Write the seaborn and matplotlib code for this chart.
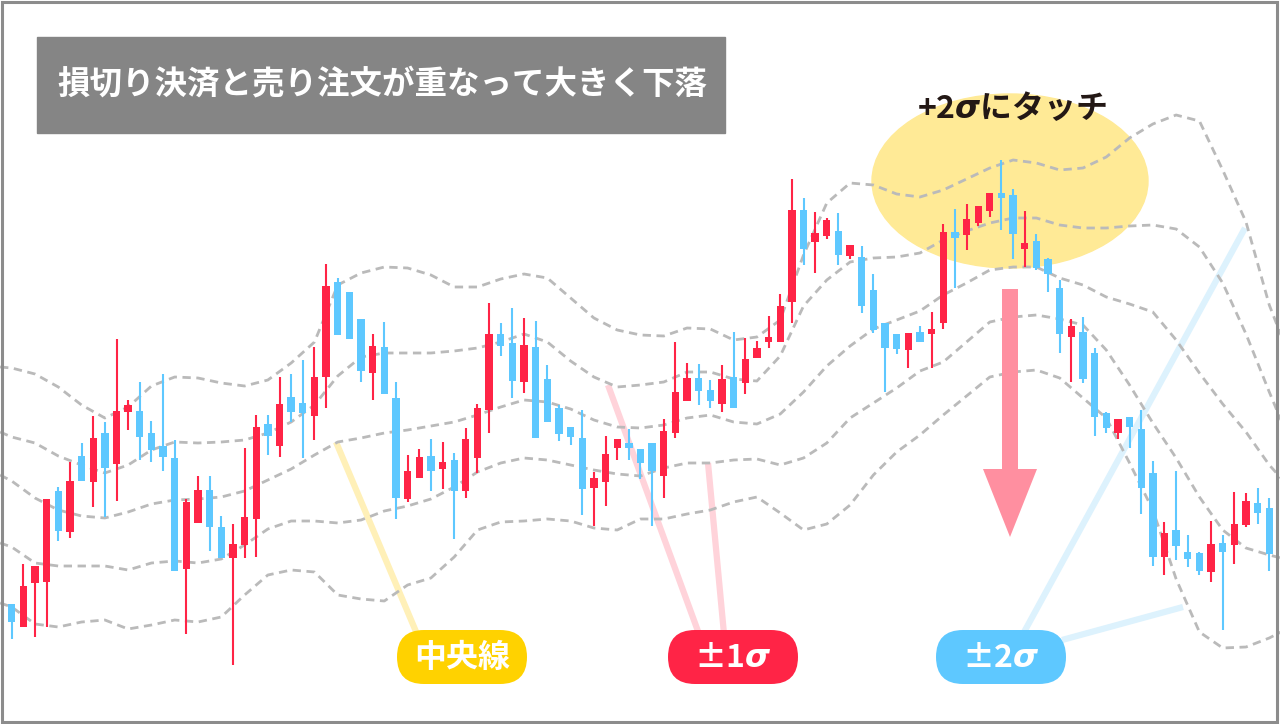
import matplotlib
matplotlib.use("Agg")
import numpy as np
import pandas as pd
import seaborn as sns
import matplotlib.pyplot as plt
import matplotlib.patches as mpatches
import matplotlib.transforms as mtransforms

# candle data (price units, one row per bar)
opens = [96, 73, 117, 118, 209, 168, 244, 218, 267, 236, 288, 289, 267, 254, 242, 131, 177, 210, 173, 142,
         155, 181, 276, 254, 303, 297, 284, 323, 418, 408, 381, 327, 353, 302, 201, 222, 244, 231, 240, 209,
         242, 290, 366, 357, 318, 353, 321, 292, 273, 262, 212, 218, 252, 257, 251, 257, 224, 267, 299, 322,
         310, 296, 323, 317, 342, 358, 358, 398, 490, 458, 464, 469, 444, 443, 410, 377, 366, 350, 368, 366,
         377, 468, 465, 477, 489, 507, 505, 451, 459, 441, 412, 363, 368, 347, 287, 267, 283, 271, 227, 143,
         170, 148, 147, 128, 157, 155, 175, 197, 192]
highs = [96, 136, 134, 201, 213, 238, 257, 284, 278, 361, 300, 318, 279, 326, 260, 201, 224, 224, 184, 176,
         252, 285, 285, 323, 326, 340, 353, 436, 422, 408, 381, 366, 378, 318, 245, 251, 261, 258, 247, 272,
         296, 397, 377, 392, 382, 379, 335, 295, 273, 290, 228, 264, 261, 271, 251, 257, 281, 358, 337, 336,
         320, 335, 368, 362, 359, 384, 406, 521, 502, 488, 482, 487, 455, 454, 426, 377, 366, 367, 374, 388,
         476, 491, 496, 494, 507, 540, 511, 489, 466, 442, 420, 381, 383, 352, 288, 281, 283, 290, 239, 178,
         229, 165, 148, 179, 165, 208, 207, 212, 202]
lows = [61, 73, 63, 73, 159, 162, 219, 193, 183, 199, 270, 240, 238, 229, 129, 66, 177, 149, 142, 35,
        142, 143, 245, 243, 278, 242, 260, 292, 365, 361, 318, 300, 306, 181, 198, 222, 209, 211, 161, 202,
        227, 267, 344, 302, 307, 262, 278, 259, 255, 185, 174, 194, 240, 240, 221, 174, 202, 262, 299, 295,
        292, 288, 292, 306, 342, 352, 358, 377, 435, 427, 461, 435, 441, 387, 367, 308, 346, 332, 358, 332,
        371, 412, 450, 474, 483, 470, 441, 433, 430, 408, 347, 318, 317, 264, 267, 261, 252, 186, 134, 125,
        140, 133, 125, 118, 70, 136, 173, 176, 129]
closes = [78, 114, 134, 201, 169, 219, 219, 262, 232, 289, 295, 263, 250, 243, 129, 198, 210, 173, 142, 156,
          183, 273, 264, 296, 288, 287, 323, 414, 365, 361, 329, 354, 306, 202, 229, 243, 229, 238, 209, 261,
          292, 366, 354, 319, 355, 262, 278, 266, 263, 211, 222, 246, 261, 252, 237, 229, 269, 308, 322, 309,
          299, 321, 292, 341, 352, 363, 394, 490, 451, 467, 480, 445, 455, 394, 370, 352, 351, 367, 358, 371,
          468, 462, 481, 494, 507, 502, 466, 457, 432, 426, 366, 374, 321, 283, 272, 281, 273, 212, 143, 167,
          154, 141, 129, 156, 148, 176, 199, 187, 146]

band_pos = [-1, 0, 2, 4, 6, 8, 10, 12, 14, 16, 18, 20, 22, 24, 26, 28, 30, 32, 34, 36,
            38, 40, 42, 44, 46, 48, 50, 52, 54, 56, 58, 60, 62, 64, 66, 68, 70, 72, 74, 76,
            78, 80, 82, 84, 86, 88, 90, 92, 94, 96, 98, 100, 102, 104, 106, 108, 109]
upper2 = [333, 332, 326, 313, 295, 282, 293, 314, 323, 322, 317, 314, 320, 337, 358, 415, 427, 433, 432, 425,
          413, 413, 421, 426, 422, 402, 382, 370, 365, 364, 372, 371, 360, 363, 380, 445, 497, 517, 515, 506,
          503, 510, 521, 532, 540, 537, 530, 532, 543, 562, 576, 585, 579, 530, 478, 395, 365]
upper1 = [268, 263, 257, 244, 235, 227, 235, 250, 258, 257, 258, 260, 267, 278, 295, 324, 343, 347, 347, 347,
          349, 352, 358, 366, 358, 339, 323, 313, 315, 318, 328, 328, 321, 319, 344, 394, 420, 438, 442, 443,
          447, 460, 469, 477, 482, 482, 475, 472, 472, 474, 475, 471, 453, 417, 366, 308, 280]
middle = [225, 219, 202, 190, 184, 182, 188, 196, 200, 201, 203, 209, 220, 231, 245, 258, 262, 267, 270, 274,
          278, 285, 293, 300, 298, 291, 280, 273, 272, 275, 282, 285, 278, 276, 286, 308, 334, 354, 371, 380,
          389, 405, 417, 430, 433, 433, 422, 415, 403, 396, 388, 360, 327, 296, 268, 235, 222]
lower1 = [157, 153, 137, 134, 134, 134, 130, 137, 139, 137, 141, 155, 171, 179, 179, 177, 180, 189, 194, 201,
          213, 228, 237, 242, 240, 235, 230, 226, 224, 232, 237, 237, 240, 241, 235, 242, 257, 282, 297, 312,
          329, 338, 358, 378, 383, 385, 381, 375, 350, 315, 277, 242, 203, 170, 152, 145, 142]
lower2 = [97, 93, 76, 73, 78, 80, 71, 75, 80, 78, 83, 105, 125, 130, 128, 105, 101, 99, 115, 122,
          143, 170, 178, 179, 181, 179, 172, 170, 181, 181, 186, 190, 198, 203, 187, 170, 176, 195, 225, 248,
          265, 285, 304, 323, 328, 330, 322, 302, 282, 237, 190, 121, 68, 52, 53, 62, 68]

title = "損切り決済と売り注文が重なって大きく下落"
touch_label = "+2$\\sigma$にタッチ"
pill_labels = ["中央線", "±1$\\sigma$", "±2$\\sigma$"]

RED = "#ff2446"
BLUE = "#5ec8ff"
YELLOW = "#ffd200"
GRAY = "#bababa"

sns.set_theme(style="white")
plt.rcParams['font.family'] = ['Noto Sans CJK JP', 'DejaVu Sans']
plt.rcParams['mathtext.fontset'] = 'custom'
plt.rcParams['mathtext.it'] = 'DejaVu Sans:italic:bold'
plt.rcParams['mathtext.rm'] = 'DejaVu Sans:bold'

W, H = 1280, 724
fig = plt.figure(figsize=(W / 100, H / 100), dpi=100)
ax = fig.add_axes([0, 0, 1, 1])
ax.set_xlim(-1.005, 108.92)
ax.set_ylim(-24, 700)
ax.axis('off')

# pixel coords, origin top-left, for the decorations
px = mtransforms.Affine2D().scale(1 / W, -1 / H).translate(0, 1) + fig.transFigure

bands = pd.DataFrame({
    'pos': band_pos * 5,
    'value': upper2 + upper1 + middle + lower1 + lower2,
    'band': sum([[name] * len(band_pos) for name in ['+2', '+1', 'mid', '-1', '-2']], []),
})
sns.lineplot(data=bands, x='pos', y='value', units='band', estimator=None, ax=ax,
             color=GRAY, linewidth=2.0, linestyle=(0, (3.0, 2.0)), zorder=2, legend=False)

o = np.array(opens)
c = np.array(closes)
x = np.arange(len(o))
colors = np.where(c > o, RED, BLUE)
ax.vlines(x, lows, highs, colors=colors, linewidth=1.5, zorder=3)
ax.bar(x, np.maximum(np.abs(c - o), 2), bottom=np.minimum(o, c), width=0.63,
       color=colors, linewidth=0, zorder=4)

# highlight ellipse behind the candles
ax.add_patch(mpatches.Ellipse((1010, 181), 276, 174, transform=px, color="#ffea96", zorder=1))
ax.text(1012, 108, touch_label, transform=px, ha='center', va='center',
        fontsize=23, fontweight='bold', color="#231815", zorder=6)

# leader lines to the labels
leaders = [
    ((336, 442), (417, 634), "#fff0b8"),
    ((608, 385), (699, 634), "#ffd3da"),
    ((708, 463), (724, 634), "#ffd3da"),
    ((1245, 228), (1023, 634), "#ddf2fd"),
    ((1183, 607), (1062, 640), "#ddf2fd"),
]
for (x0, y0), (x1, y1), col in leaders:
    ax.plot([x0, x1], [y0, y1], transform=px, color=col, linewidth=4.5,
            solid_capstyle='butt', zorder=1.5)

# down arrow
ax.add_patch(mpatches.FancyArrow(1010, 289, 0, 248, width=16, head_width=54, head_length=68,
                                 length_includes_head=True, transform=px,
                                 color="#ff8fa0", linewidth=0, zorder=5))

# pills
for (cx, col), label in zip([(462, YELLOW), (733, RED), (1001, BLUE)], pill_labels):
    ax.add_patch(mpatches.FancyBboxPatch((cx - 65, 630), 130, 54,
                                         boxstyle="round,pad=0,rounding_size=27",
                                         transform=px, color=col, linewidth=0, zorder=6))
    ax.text(cx, 658, label, transform=px, ha='center', va='center',
            fontsize=23, fontweight='bold', color='white', zorder=7)

# title box
ax.add_patch(mpatches.Rectangle((37, 37), 688, 96, transform=px, color="#858585", zorder=6))
ax.text(57, 84, title, transform=px, ha='left', va='center',
        fontsize=23.4, fontweight='bold', color='white', zorder=7)

# frame
ax.add_patch(mpatches.Rectangle((1.5, 1.5), 1275, 720, transform=px, fill=False,
                                edgecolor="#8c8c8c", linewidth=2.2, zorder=8))

fig.savefig('out.png', dpi=100)
